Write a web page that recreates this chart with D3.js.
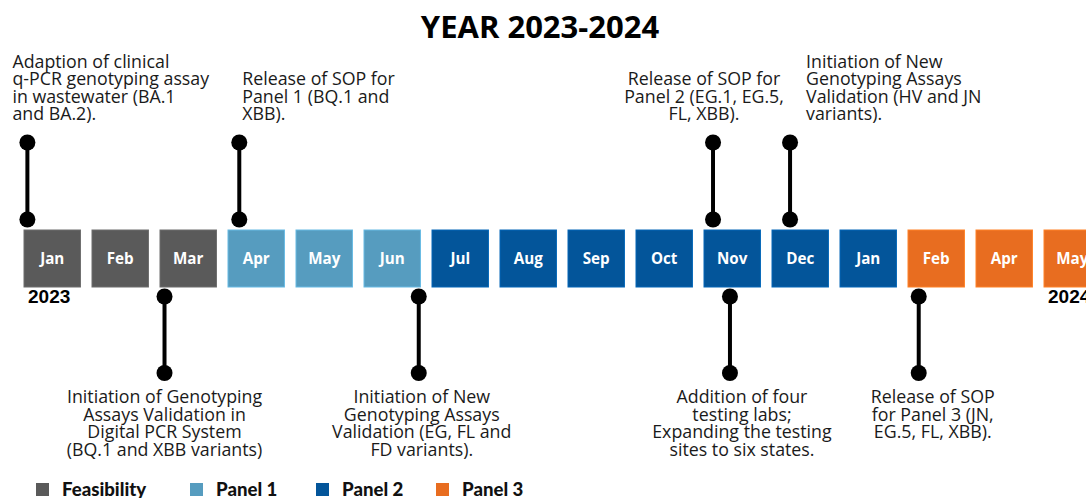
<!DOCTYPE html>
<html lang="en">
  <head>
    <meta charset="UTF-8" />
    <title>Year 2023-2024 timeline</title>
    <style>
      body {
        margin: 0;
        background: #fff;
      }
      svg {
        display: block;
      }
      .note {
        font-family: 'Open Sans', sans-serif;
        font-size: 17.8px;
        fill: #1a1a1a;
      }
      .month {
        font-family: 'Open Sans', sans-serif;
        font-weight: 700;
        font-size: 15.2px;
        fill: #fff;
      }
      .year {
        font-family: 'Liberation Sans', Arial, sans-serif;
        font-weight: 700;
        font-size: 19px;
      }
      .legend text {
        font-family: Lato, sans-serif;
        font-weight: 900;
        font-size: 18.6px;
        fill: #111;
      }
    </style>
  </head>
  <body>
    <script src="https://cdn.jsdelivr.net/npm/d3@7"></script>
    <svg width="1086" height="498"></svg>
    <script>
      // months shown on the timeline (2023 Jan -> 2024 May, Mar 2024 missing)
      const months = ['Jan', 'Feb', 'Mar', 'Apr', 'May', 'Jun', 'Jul', 'Aug', 'Sep', 'Oct', 'Nov', 'Dec', 'Jan', 'Feb', 'Apr', 'May'];
      const monthPhase = ['Feasibility', 'Feasibility', 'Feasibility', 'Panel 1', 'Panel 1', 'Panel 1',
        'Panel 2', 'Panel 2', 'Panel 2', 'Panel 2', 'Panel 2', 'Panel 2', 'Panel 2',
        'Panel 3', 'Panel 3', 'Panel 3'];
      const phaseNames = ['Feasibility', 'Panel 1', 'Panel 2', 'Panel 3'];
      const phaseColors = ['#5a5a5a', '#569cbf', '#03559a', '#e86d20'];
      const yearNames = ['2023', '2024'];
      const yearMonthIndex = [0, 15];

      // milestones: month index, position inside the month (0..1), side of the timeline
      const eventMonth = [0, 3, 10, 11, 2, 5, 10, 13];
      const eventWithin = [0.06, 0.2, 0.16, 0.32, 0.08, 0.97, 0.46, 0.19];
      const eventSide = ['top', 'top', 'top', 'top', 'bottom', 'bottom', 'bottom', 'bottom'];
      const eventText = [
        ['Adaption of clinical', 'q-PCR genotyping assay', 'in wastewater (BA.1', 'and BA.2).'],
        ['Release of SOP for', 'Panel 1 (BQ.1 and', 'XBB).'],
        ['Release of SOP for', 'Panel 2 (EG.1, EG.5,', 'FL, XBB).'],
        ['Initiation of New', 'Genotyping Assays', 'Validation (HV and JN', 'variants).'],
        ['Initiation of Genotyping', 'Assays Validation in', 'Digital PCR System', '(BQ.1 and XBB variants)'],
        ['Initiation of New', 'Genotyping Assays', 'Validation (EG, FL and', 'FD variants).'],
        ['Addition of four', 'testing labs;', 'Expanding the testing', 'sites to six states.'],
        ['Release of SOP', 'for Panel 3 (JN,', 'EG.5, FL, XBB).']
      ];

      // label placement relative to its pin
      const labelAnchor = ['start', 'start', 'middle', 'start', 'middle', 'middle', 'middle', 'middle'];
      const labelDx = [-15, 3, -9, 16, 0, 3, 12, 14];

      const svg = d3.select('svg');
      const boxTop = 230,
        boxH = 57,
        lineH = 17.5;

      const x = d3
        .scaleBand()
        .domain(d3.range(months.length))
        .range([24, 24 + 68 * (months.length - 0.17)])
        .paddingInner(0.17)
        .paddingOuter(0);
      const within = d3.scaleLinear().domain([0, 1]).range([0, x.bandwidth()]);
      const color = d3.scaleOrdinal().domain(phaseNames).range(phaseColors);

      svg
        .append('text')
        .attr('x', 540)
        .attr('y', 37.5)
        .attr('text-anchor', 'middle')
        .attr('font-family', 'Open Sans, sans-serif')
        .attr('font-weight', 700)
        .attr('font-size', 31)
        .text('YEAR 2023-2024');

      // month boxes
      const box = svg
        .selectAll('.box')
        .data(months)
        .enter()
        .append('g')
        .attr('class', 'box')
        .attr('transform', (d, i) => 'translate(' + x(i) + ',' + boxTop + ')');

      box
        .append('rect')
        .attr('width', x.bandwidth())
        .attr('height', boxH)
        .attr('fill', (d, i) => color(monthPhase[i]))
        .attr('stroke', (d, i) => d3.color(color(monthPhase[i])).brighter(0.5))
        .attr('stroke-width', 1);

      box
        .append('text')
        .attr('class', 'month')
        .attr('x', x.bandwidth() / 2)
        .attr('y', boxH / 2)
        .attr('dy', '0.36em')
        .attr('text-anchor', 'middle')
        .text((d) => d);

      svg
        .selectAll('.year')
        .data(yearNames)
        .enter()
        .append('text')
        .attr('class', 'year')
        .attr('x', (d, i) => x(yearMonthIndex[i]) + 4)
        .attr('y', 303)
        .text((d) => d);

      // pins
      const pin = svg
        .selectAll('.pin')
        .data(eventText)
        .enter()
        .append('g')
        .attr('class', 'pin')
        .attr('transform', (d, i) => 'translate(' + (x(eventMonth[i]) + within(eventWithin[i])) + ',0)');

      const y1 = (i) => (eventSide[i] === 'top' ? 219.5 : 296.5);
      const y2 = (i) => (eventSide[i] === 'top' ? 142.5 : 373);

      pin
        .append('line')
        .attr('y1', (d, i) => y1(i))
        .attr('y2', (d, i) => y2(i))
        .attr('stroke', '#000')
        .attr('stroke-width', 4);
      pin.append('circle').attr('cy', (d, i) => y1(i)).attr('r', 8).attr('fill', '#000');
      pin.append('circle').attr('cy', (d, i) => y2(i)).attr('r', 8).attr('fill', '#000');

      const label = pin
        .append('text')
        .attr('class', 'note')
        .attr('text-anchor', (d, i) => labelAnchor[i])
        .attr('transform', (d, i) => {
          const first = eventSide[i] === 'top' ? 120 - (d.length - 1) * lineH : 403;
          return 'translate(' + labelDx[i] + ',' + first + ')';
        });

      label
        .selectAll('tspan')
        .data((d) => d)
        .enter()
        .append('tspan')
        .attr('x', 0)
        .attr('y', (d, j) => j * lineH)
        .text((d) => d);

      // legend
      const legendX = [36, 190, 316, 436];
      const legend = svg
        .append('g')
        .attr('class', 'legend')
        .selectAll('g')
        .data(phaseNames)
        .enter()
        .append('g')
        .attr('transform', (d, i) => 'translate(' + legendX[i] + ',483)');

      legend
        .append('rect')
        .attr('width', 13)
        .attr('height', 13)
        .attr('fill', (d) => color(d));

      legend
        .append('text')
        .attr('x', 26)
        .attr('y', 13)
        .text((d) => d);
    </script>
  </body>
</html>
